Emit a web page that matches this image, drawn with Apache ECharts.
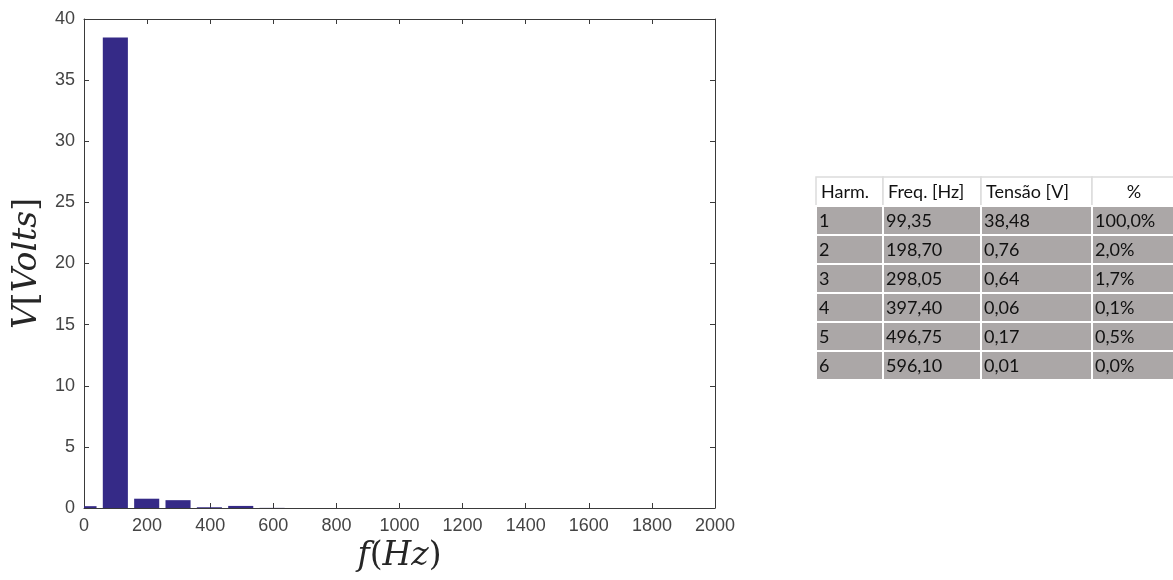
<!DOCTYPE html>
<html>
<head>
<meta charset="utf-8">
<script src="https://cdn.jsdelivr.net/npm/echarts@6/dist/echarts.min.js"></script>
<style>
  html, body { margin: 0; padding: 0; background: #fff; }
  #chart { width: 1173px; height: 580px; }
</style>
</head>
<body>
<div id="chart"></div>
<script>
// espectro (inclui componente DC em 0 Hz)
const barFreqs = [0, 99.35, 198.70, 298.05, 397.40, 496.75, 596.10];
const barVolts = [0.15, 38.48, 0.76, 0.64, 0.06, 0.17, 0.01];
const barWidthHz = 79.5;

// tabela de harmonicos
const tableHeaders = ['Harm.', 'Freq. [Hz]', 'Tensão [V]', '%'];
const harmOrder = [1, 2, 3, 4, 5, 6];
const harmFreqs = [99.35, 198.70, 298.05, 397.40, 496.75, 596.10];
const harmVolts = [38.48, 0.76, 0.64, 0.06, 0.17, 0.01];
const harmPercent = [100.0, 2.0, 1.7, 0.1, 0.5, 0.0];

const xTicks = { min: 0, max: 2000, interval: 200 };
const yTicks = { min: 0, max: 40, interval: 5 };

const BAR_COLOR = '#352a87';
const AXIS_COLOR = '#3a3a3a';

const chart = echarts.init(document.getElementById('chart'));

function fmt(v, digits) {
  return v.toFixed(digits).replace('.', ',');
}

function buildTable() {
  const colX = [816, 883, 981, 1092, 1176];
  const top = 177;
  const headH = 29;
  const rowH = 29;
  const rows = harmOrder.map((h, i) => [
    String(h),
    fmt(harmFreqs[i], 2),
    fmt(harmVolts[i], 2),
    fmt(harmPercent[i], 1) + '%',
  ]);
  const els = [];
  const font = '18px Lato, "Open Sans", sans-serif';

  tableHeaders.forEach((text, c) => {
    const w = colX[c + 1] - colX[c];
    els.push({
      type: 'rect',
      shape: { x: colX[c], y: top, width: w, height: headH },
      style: { fill: '#ffffff', stroke: '#dcdcdc', lineWidth: 1.5 },
    });
    const center = c === 3;
    els.push({
      type: 'text',
      style: {
        x: center ? colX[c] + w / 2 : colX[c] + 5,
        y: top + headH / 2 + 1,
        text,
        font,
        fill: '#111',
        align: center ? 'center' : 'left',
        verticalAlign: 'middle',
      },
    });
  });

  rows.forEach((row, r) => {
    const y = top + headH + r * rowH;
    row.forEach((text, c) => {
      const w = colX[c + 1] - colX[c];
      els.push({
        type: 'rect',
        shape: { x: colX[c], y, width: w, height: rowH },
        style: { fill: '#aba7a7', stroke: '#ffffff', lineWidth: 2 },
      });
      els.push({
        type: 'text',
        style: {
          x: colX[c] + 3,
          y: y + rowH / 2 + 1,
          text,
          font,
          fill: '#111',
          align: 'left',
          verticalAlign: 'middle',
        },
      });
    });
  });
  return els;
}

const labelStyle = {
  color: '#444',
  fontSize: 18,
  fontFamily: '"Liberation Sans", Arial, sans-serif',
  formatter: (v) => String(v),
};
const mathRich = {
  i: { fontFamily: '"DejaVu Serif", serif', fontStyle: 'italic', fontSize: 33, color: '#262626' },
  r: { fontFamily: '"DejaVu Serif", serif', fontSize: 33, color: '#262626' },
};

const boxAxis = {
  axisLine: { show: true, onZero: false, lineStyle: { color: AXIS_COLOR, width: 1 } },
  axisTick: { show: true, inside: true, length: 5, lineStyle: { color: AXIS_COLOR } },
  axisLabel: { show: false },
  splitLine: { show: false },
};

const option = {
  animation: false,
  backgroundColor: '#fff',
  grid: { left: 84, right: 458, top: 19, bottom: 72 },
  xAxis: [
    {
      type: 'value',
      ...xTicks,
      position: 'bottom',
      axisLine: { show: true, onZero: false, lineStyle: { color: AXIS_COLOR, width: 1 } },
      axisTick: { show: true, inside: true, length: 5, lineStyle: { color: AXIS_COLOR } },
      axisLabel: { ...labelStyle, margin: 9 },
      splitLine: { show: false },
      name: '{i|f}{r|(}{i|Hz}{r|)}',
      nameLocation: 'middle',
      nameGap: 29,
      nameTextStyle: { rich: mathRich },
    },
    { type: 'value', ...xTicks, position: 'top', ...boxAxis },
  ],
  yAxis: [
    {
      type: 'value',
      ...yTicks,
      position: 'left',
      axisLine: { show: true, onZero: false, lineStyle: { color: AXIS_COLOR, width: 1 } },
      axisTick: { show: true, inside: true, length: 5, lineStyle: { color: AXIS_COLOR } },
      axisLabel: { ...labelStyle, margin: 9 },
      splitLine: { show: false },
      name: '{i|V}{r|[}{i|Volts}{r|]}',
      nameLocation: 'middle',
      nameGap: 38,
      nameTextStyle: { rich: mathRich },
    },
    { type: 'value', ...yTicks, position: 'right', ...boxAxis },
  ],
  series: [
    {
      type: 'custom',
      data: barFreqs.map((f, i) => [f, barVolts[i]]),
      renderItem: (params, api) => {
        const f = api.value(0);
        const v = api.value(1);
        const p0 = api.coord([f - barWidthHz / 2, v]);
        const p1 = api.coord([f + barWidthHz / 2, 0]);
        const shape = echarts.graphic.clipRectByRect(
          { x: p0[0], y: p0[1], width: p1[0] - p0[0], height: p1[1] - p0[1] },
          {
            x: params.coordSys.x,
            y: params.coordSys.y,
            width: params.coordSys.width,
            height: params.coordSys.height,
          }
        );
        return shape && {
          type: 'rect',
          shape,
          style: { fill: BAR_COLOR },
        };
      },
    },
  ],
  graphic: buildTable(),
};

chart.setOption(option);
</script>
</body>
</html>
